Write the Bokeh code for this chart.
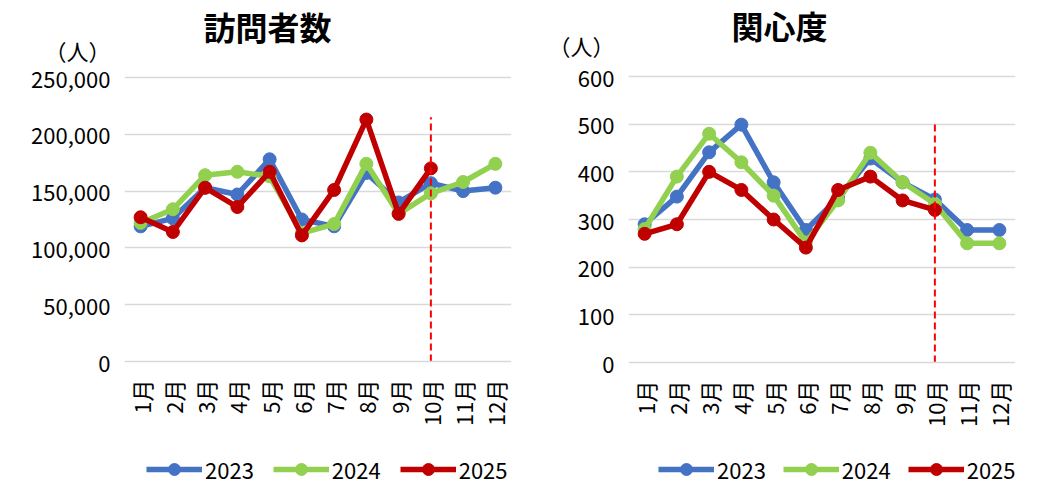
import math
from bokeh.plotting import figure
from bokeh.layouts import row
from bokeh.models import Range1d, FactorRange, FixedTicker, Label, Legend, LegendItem
from bokeh.embed import file_html
from bokeh.resources import INLINE

# ---------------- data ----------------
months = ["1月", "2月", "3月", "4月", "5月", "6月", "7月", "8月", "9月", "10月", "11月", "12月"]
years = ["2023", "2024", "2025"]

visitors_2023 = [119000, 126000, 153000, 147000, 178000, 125000, 119000, 166000, 140000, 157000, 150000, 153000]
visitors_2024 = [122000, 134000, 164000, 167000, 163000, 113000, 121000, 174000, 130000, 148000, 158000, 174000]
visitors_2025 = [127000, 114000, 153000, 136000, 167000, 111000, 151000, 213000, 130000, 170000]

interest_2023 = [290, 348, 441, 499, 378, 278, 345, 428, 378, 342, 278, 278]
interest_2024 = [280, 390, 480, 420, 350, 252, 340, 440, 378, 333, 250, 250]
interest_2025 = [270, 290, 400, 362, 300, 241, 362, 390, 340, 320]

visitor_ticks = [0, 50000, 100000, 150000, 200000, 250000]
visitor_tick_labels = ["0", "50,000", "100,000", "150,000", "200,000", "250,000"]
interest_ticks = [0, 100, 200, 300, 400, 500, 600]
interest_tick_labels = ["0", "100", "200", "300", "400", "500", "600"]
unit_label = "（人）"

cutoff_month = "10月"
visitor_cutoff_top = 215000
interest_cutoff_top = 500

FONT = "Noto Sans CJK JP"
COLORS = ["#4472C4", "#92D050", "#C00000"]
GRID = "#D9D9D9"
FIG_H = 488


def make_chart(title, series, ticks, tick_labels, cutoff_top, width,
               border_left, border_right, px_top, px_zero,
               title_pos, unit_center, legend_pos, legend_spacing):
    # The frame fills the full figure height; the value range is stretched
    # so that 0 sits at px_zero and the top tick at px_top (pixels from top).
    k = (ticks[-1] - ticks[0]) / (px_zero - px_top)
    y_start = ticks[0] - (FIG_H - px_zero) * k
    y_end = ticks[-1] + px_top * k
    unit_tick = round(ticks[0] + (px_zero - unit_center) * k)

    p = figure(
        x_range=FactorRange(factors=months, range_padding=0),
        y_range=Range1d(y_start, y_end),
        width=width, height=FIG_H,
        min_border_left=border_left, min_border_right=border_right,
        min_border_top=0, min_border_bottom=0,
        output_backend="svg", toolbar_location=None,
    )
    p.outline_line_color = None
    p.background_fill_color = "white"
    p.border_fill_color = "white"

    p.xgrid.grid_line_color = None
    p.ygrid.ticker = FixedTicker(ticks=ticks[1:])
    p.ygrid.grid_line_color = GRID
    p.ygrid.grid_line_width = 1.5

    p.yaxis.ticker = FixedTicker(ticks=ticks + [unit_tick])
    overrides = {t: l for t, l in zip(ticks, tick_labels)}
    overrides[unit_tick] = unit_label
    p.yaxis.major_label_overrides = overrides
    p.yaxis.axis_line_color = None
    p.yaxis.major_tick_line_color = None
    p.yaxis.major_tick_out = 0
    p.yaxis.minor_tick_line_color = None
    p.yaxis.major_label_standoff = 14
    p.yaxis.major_label_text_font = FONT
    p.yaxis.major_label_text_font_size = "22px"
    p.yaxis.major_label_text_color = "#000000"

    p.xaxis.fixed_location = 0
    p.xaxis.axis_line_color = GRID
    p.xaxis.axis_line_width = 1.5
    p.xaxis.major_tick_line_color = None
    p.xaxis.major_tick_out = 0
    p.xaxis.minor_tick_line_color = None
    p.xaxis.major_label_orientation = math.pi / 2
    p.xaxis.major_label_standoff = 18
    p.xaxis.major_label_text_font = FONT
    p.xaxis.major_label_text_font_size = "22px"
    p.xaxis.major_label_text_color = "#000000"

    items = []
    for yr, vals, col in zip(years, series, COLORS):
        xs = months[:len(vals)]
        ln = p.line(x=xs, y=vals, line_color=col, line_width=5.5)
        sc = p.scatter(x=xs, y=vals, size=13, fill_color=col, line_color=col)
        items.append(LegendItem(label=yr, renderers=[ln, sc]))

    p.line(x=[cutoff_month, cutoff_month], y=[0, cutoff_top],
           line_color="#FF0000", line_width=2, line_dash="7 4")

    legend = Legend(items=items, orientation="horizontal", location=legend_pos,
                    glyph_width=56, glyph_height=30, label_standoff=3, spacing=legend_spacing,
                    padding=0, margin=0, border_line_color=None, background_fill_alpha=0,
                    label_text_font=FONT, label_text_font_size="22px",
                    label_text_color="#000000")
    p.add_layout(legend)

    p.add_layout(Label(x=title_pos[0], y=title_pos[1], x_units="screen", y_units="screen",
                       text=title, text_align="center", text_baseline="middle",
                       text_font=FONT, text_font_size="32px", text_font_style="bold",
                       text_color="#000000"))
    return p


p1 = make_chart("訪問者数", [visitors_2023, visitors_2024, visitors_2025],
                visitor_ticks, visitor_tick_labels, visitor_cutoff_top, 520,
                124, 9, 77, 361, (143, FIG_H - 25), 50, (22, FIG_H - 470 - 15), 19)
p2 = make_chart("関心度", [interest_2023, interest_2024, interest_2025],
                interest_ticks, interest_tick_labels, interest_cutoff_top, 512,
                108, 17, 76, 362, (151, FIG_H - 24), 44, (30, FIG_H - 470 - 15), 17)

layout = row(p1, p2, spacing=0)
open("out.html", "w").write(file_html(layout, INLINE))
